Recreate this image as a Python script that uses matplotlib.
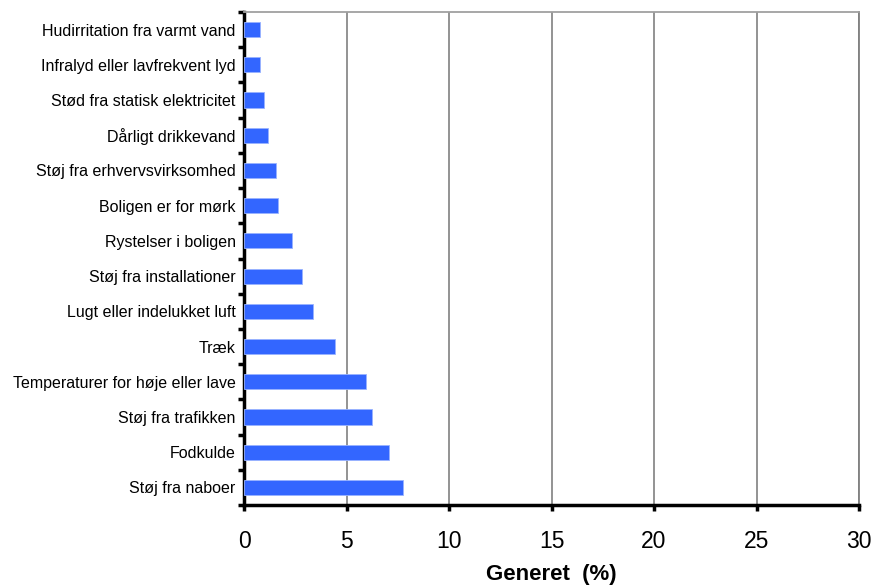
import matplotlib
matplotlib.use("Agg")
import matplotlib.pyplot as plt
import numpy as np

categories = [
    "Støj fra naboer",
    "Fodkulde",
    "Støj fra trafikken",
    "Temperaturer for høje eller lave",
    "Træk",
    "Lugt eller indelukket luft",
    "Støj fra installationer",
    "Rystelser i boligen",
    "Boligen er for mørk",
    "Støj fra erhvervsvirksomhed",
    "Dårligt drikkevand",
    "Stød fra statisk elektricitet",
    "Infralyd eller lavfrekvent lyd",
    "Hudirritation fra varmt vand",
]
values = [7.74, 7.05, 6.25, 5.94, 4.45, 3.35, 2.84, 2.35, 1.65, 1.54, 1.15, 0.96, 0.76, 0.76]
xticks = [0, 5, 10, 15, 20, 25, 30]

plt.rcParams['font.family'] = ['Liberation Sans', 'DejaVu Sans']

fig = plt.figure(figsize=(8.72, 5.88), dpi=100)
ax = fig.add_axes([244/872, 1-505/588, (859-244)/872, (505-12)/588])

y = np.arange(len(categories))
ax.barh(y, values, height=0.43, color="#3366FF", edgecolor="#99B3FF", linewidth=0.6, zorder=3)

ax.set_xlim(0, 30)
ax.set_ylim(-0.5, len(categories)-0.5)
ax.set_xticks(xticks)
ax.set_xticklabels([str(t) for t in xticks], fontsize=16.5)
ax.set_yticks(y)
ax.set_yticklabels(categories, fontsize=11.5)
ax.tick_params(axis='y', which='major', length=0, pad=6)
ax.set_yticks(np.arange(-0.5, len(categories), 1.0), minor=True)
ax.tick_params(axis='y', which='minor', length=4, width=2.5, direction='out', color='black')
ax.tick_params(axis='x', which='major', length=4, width=2.5, direction='out', color='black', pad=14)

ax.grid(axis='x', color='#808080', linewidth=1.2, zorder=0)
ax.set_axisbelow(True)

ax.spines['left'].set_color('black')
ax.spines['left'].set_linewidth(2.5)
ax.spines['bottom'].set_color('black')
ax.spines['bottom'].set_linewidth(2.5)
ax.spines['top'].set_color('#A0A0A0')
ax.spines['top'].set_linewidth(1.3)
ax.spines['right'].set_color('#808080')
ax.spines['right'].set_linewidth(1.3)

ax.set_xlabel("Generet  (%)", fontsize=16, fontweight='bold', labelpad=8)

fig.savefig("out.png", dpi=100)
